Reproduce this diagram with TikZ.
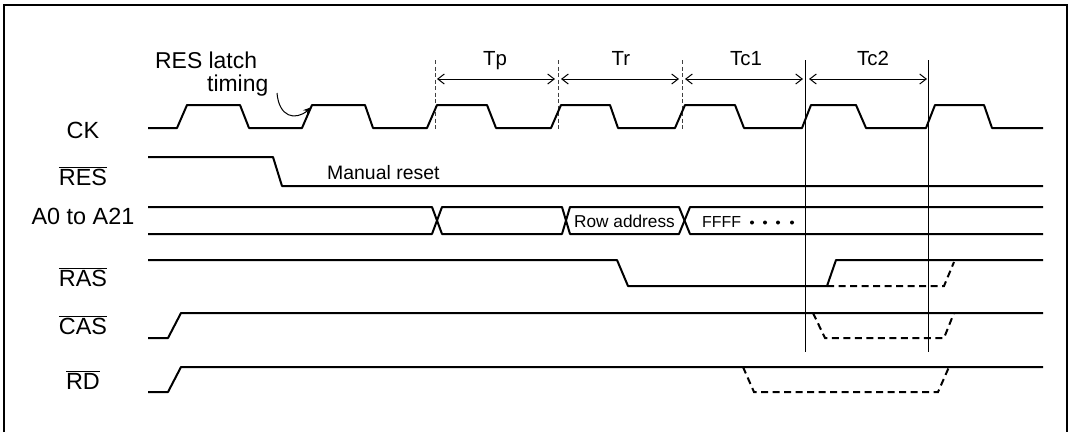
\documentclass[tikz,border=0pt]{standalone}
\usepackage{fontspec}
\setmainfont{Liberation Sans}
\usetikzlibrary{arrows.meta}
\begin{document}
\begin{tikzpicture}[x=1bp,y=-1bp,
  sig/.style={line width=2bp, line join=round},
  sigd/.style={line width=2bp, dash pattern=on 7bp off 4.5bp},
  guide/.style={line width=0.8bp, dash pattern=on 4bp off 2.5bp, black!75},
  marker/.style={line width=1bp},
  span/.style={line width=1bp, {Straight Barb[length=6.5bp,width=10bp]}-{Straight Barb[length=6.5bp,width=10bp]}},
  lbl/.style={inner sep=0pt, anchor=base, font=\fontsize{23.5}{27}\selectfont},
  tlbl/.style={inner sep=0pt, anchor=base, font=\fontsize{20.5}{24}\selectfont},
  note/.style={inner sep=0pt, anchor=base west, font=\fontsize{#1}{#1}\selectfont},
]
\useasboundingbox (0,0) rectangle (1069,432);
% frame
\draw[line width=1.6bp] (4,432) -- (4,5) -- (1067,5) -- (1067,432);

% signal labels
\node[lbl] (lck)  at (83,138) {CK};
\node[lbl] (lres) at (83,185) {$\overline{\mbox{RES}}$};
\node[lbl] (la)   at (83,224.5) {A0 to A21};
\node[lbl] (lras) at (83,286) {$\overline{\mbox{RAS}}$};
\node[lbl] (lcas) at (83,334) {$\overline{\mbox{CAS}}$};
\node[lbl] (lrd)  at (83,389) {$\overline{\mbox{RD}}$};

% state labels
\node[tlbl] (tp)  at (495,65) {Tp};
\node[tlbl] (tr)  at (621,65) {Tr};
\node[tlbl] (tc1) at (746,65) {Tc1};
\node[tlbl] (tc2) at (873,65) {Tc2};

% guide lines
\coordinate (g1t) at (435,60); \coordinate (g1b) at (435,130);
\coordinate (g2t) at (558,60); \coordinate (g2b) at (558,130);
\coordinate (g3t) at (682,60); \coordinate (g3b) at (682,130);
\coordinate (m1t) at (805,60); \coordinate (m1b) at (805,352);
\coordinate (m2t) at (928,60); \coordinate (m2b) at (928,352);
\draw[guide] (g1t) -- (g1b);
\draw[guide] (g2t) -- (g2b);
\draw[guide] (g3t) -- (g3b);
\draw[marker] (m1t) -- (m1b);
\draw[marker] (m2t) -- (m2b);

% span arrows
\draw[span] (437,79) -- (555,79);
\draw[span] (561,79) -- (679,79);
\draw[span] (685,79) -- (803,79);
\draw[span] (809,79) -- (927,79);

% CK
\draw[sig] (148,128) -- (177,128) -- (187,105) -- (240,105) -- (249,128)
  -- (302,128) -- (312,105) -- (365,105) -- (373,128)
  -- (427,128) -- (437,105) -- (487,105) -- (496,128)
  -- (551,128) -- (561,105) -- (610,105) -- (618,128)
  -- (675,128) -- (685,105) -- (735,105) -- (744,128)
  -- (802,128) -- (811,105) -- (856,105) -- (866,128)
  -- (926,128) -- (935,105) -- (984,105) -- (992,128) -- (1043,128);

% RES latch timing
\node[note=23] (latch) at (155,68.5) {RES latch};
\node[note=23] (timing) at (207,91.7) {timing};
\coordinate (cstart) at (277,93);
\draw[line width=1bp, -{Stealth[length=9bp,width=6.5bp]}] (cstart)
  .. controls (279,117) and (295,121) .. (312,107);

% RES
\draw[sig] (148,157) -- (273,157) -- (282,186) -- (1043,186);
\node[note=19.5] (manual) at (327,179) {Manual reset};

% A0 to A21
\draw[sig] (148,207) -- (432,207) -- (442,234) -- (562,234) -- (570,207)
  -- (679,207) -- (690,234) -- (1043,234);
\draw[sig] (148,234) -- (432,234) -- (442,207) -- (562,207) -- (570,234)
  -- (679,234) -- (690,207) -- (1043,207);
\node[note=17.3] (row) at (574,227.3) {Row address};
\node[note=16] (ffff) at (702,227.3) {FFFF};
\foreach \dx in {752,765,778,792} \fill (\dx,222.5) circle (2bp);

% RAS
\draw[sig] (148,260) -- (617,260) -- (628,286) -- (827,286) -- (836,260) -- (1043,260);
\draw[sigd] (827,286) -- (944,286) -- (954,262);

% CAS
\draw[sig] (148,338) -- (168,338) -- (181,313) -- (1043,313);
\draw[sigd] (813,313) -- (825,338) -- (944,338) -- (954,313);

% RD
\draw[sig] (148,392) -- (168,392) -- (181,367) -- (1043,367);
\draw[sigd] (743,367) -- (754,392) -- (938,392) -- (949,367);
\end{tikzpicture}
\end{document}
